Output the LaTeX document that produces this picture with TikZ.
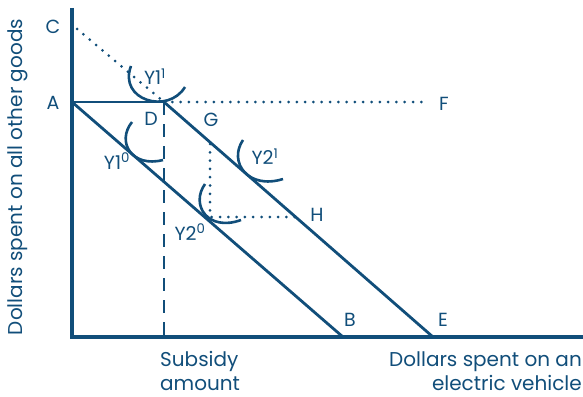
\documentclass[tikz,border=0pt]{standalone}
\usepackage{fontspec}
\setmainfont{Poppins}
\definecolor{navy}{RGB}{17,78,122}
\tikzset{
  axisline/.style={line width=3.4pt, navy, line join=miter},
  budget/.style={line width=2.8pt, navy},
  curvepart/.style={line width=2.6pt, navy, line cap=butt},
  dotline/.style={line width=3pt, navy, line cap=round, dash pattern=on 0pt off 8.3pt},
  dashline/.style={line width=2.7pt, navy, dash pattern=on 13pt off 9pt},
  lbl/.style={text=navy, inner sep=0pt, font=\fontsize{19}{22}\selectfont},
  axlbl/.style={text=navy, inner sep=0pt, font=\fontsize{20}{24}\selectfont}
}
\begin{document}
\begin{tikzpicture}[x=1pt,y=-1pt]
\useasboundingbox (0,0) rectangle (583,396);
% points
\coordinate (O) at (72,337);
\coordinate (Ytop) at (72,8);
\coordinate (Xend) at (583,337);
\coordinate (A) at (72,102);
\coordinate (D) at (164,102);
\coordinate (B) at (343,337);
\coordinate (E) at (433,337);
\coordinate (Cpt) at (77,29);
\coordinate (Fpt) at (427,102);
\coordinate (Dbase) at (164,337);
\coordinate (Gpt) at (210,144);
\coordinate (Kpt) at (210,217);
\coordinate (Hpt) at (296,217);
% dotted and dashed guides
\draw[dotline] (Cpt) -- (D);
\draw[dotline] (D) -- (Fpt);
\draw[dotline] (Gpt) -- (Kpt) -- (Hpt);
\draw[dashline] (D) -- (Dbase);
% budget lines
\draw[budget] (A) -- (D);
\draw[budget] (A) -- (B);
\draw[budget] (D) -- (E);
% axes
\draw[axisline] (Ytop) -- (O) -- (Xend);
% indifference curve pieces
\draw[curvepart] (131,66) .. controls (118,100) and (168,115) .. (185,87);
\draw[curvepart] (132,122) .. controls (116,142) and (132,168) .. (163,160);
\draw[curvepart] (243,140) .. controls (228,162) and (248,190) .. (283,179);
\draw[curvepart] (205,184) .. controls (190,205) and (208,232) .. (241,220);
% labels
\node[lbl] (labC) at (53,27) {C};
\node[lbl] (labA) at (53,103) {A};
\node[lbl] (labD) at (151,119) {D};
\node[lbl] (labG) at (211,120) {G};
\node[lbl] (labF) at (444,104) {F};
\node[lbl] (labH) at (317,215) {H};
\node[lbl] (labB) at (350,320) {B};
\node[lbl] (labE) at (443,320) {E};
\node[lbl] (labY11) at (155,77) {Y1\textsuperscript{1}};
\node[lbl] (labY10) at (117,161) {Y1\textsuperscript{0}};
\node[lbl] (labY21) at (265,157) {Y2\textsuperscript{1}};
\node[lbl] (labY20) at (190,232) {Y2\textsuperscript{0}};
\node[axlbl, rotate=90, anchor=base] (ylab) at (22,177) {Dollars spent on all other goods};
\node[axlbl, align=left, anchor=base west] (sub) at (160,390) {Subsidy\\amount};
\node[axlbl, align=right, anchor=base east] (xlab) at (582,390) {Dollars spent on an\\electric vehicle};
\end{tikzpicture}
\end{document}
